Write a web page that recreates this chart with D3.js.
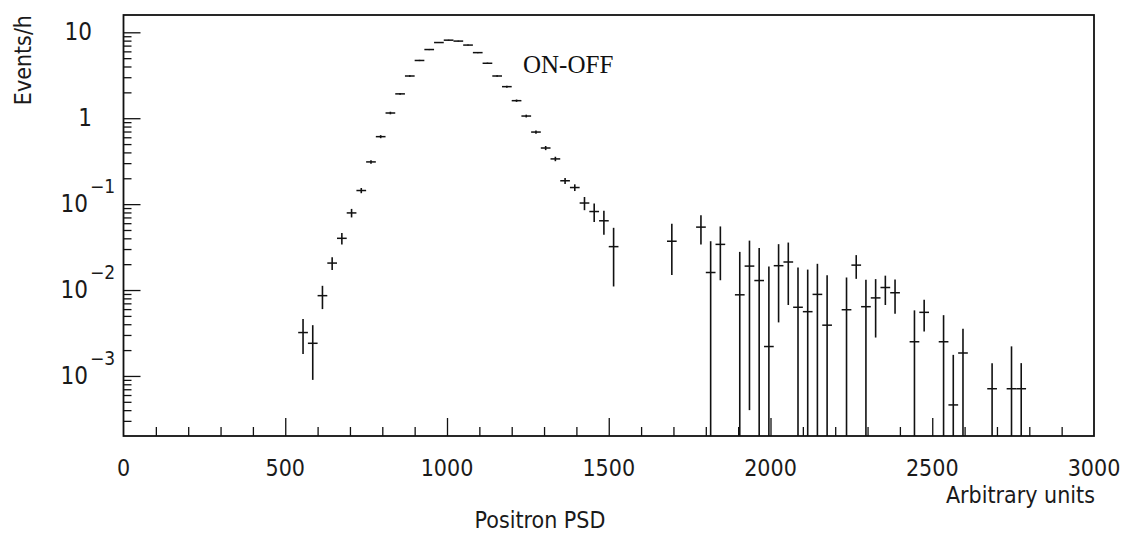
<!DOCTYPE html>
<html>
<head>
<meta charset="utf-8">
<script src="https://cdn.jsdelivr.net/npm/d3@7"></script>
<style>
  body { margin: 0; background: #fff; }
  svg { display: block; }
  .lab { font-family: "DejaVu Sans Condensed", "DejaVu Sans", sans-serif; font-weight: 200; fill: #1a1a1a; }
</style>
</head>
<body>
<svg id="chart" width="1134" height="535"></svg>
<script>
// bin centres (30-unit bins), counts per hour and their errors
const binCenters = [555, 585, 615, 645, 675, 705, 735, 765, 795, 825, 855, 885, 915, 945, 975, 1005,
  1035, 1065, 1095, 1125, 1155, 1185, 1215, 1245, 1275, 1305, 1335, 1365, 1395, 1425, 1455, 1485, 1515,
  1695, 1785, 1815, 1845, 1905, 1935, 1965, 1995, 2025, 2055, 2085, 2115, 2145, 2175, 2235, 2265, 2295,
  2325, 2355, 2385, 2445, 2475, 2535, 2565, 2595, 2685, 2745, 2775]
const rates = [0.0032, 0.0024, 0.0086, 0.0206, 0.040, 0.079, 0.144, 0.31, 0.61, 1.15, 1.92, 3.1, 4.7, 6.3, 7.6, 8.1,
  7.9, 7.1, 5.8, 4.36, 3.1, 2.33, 1.6, 1.06, 0.69, 0.45, 0.336, 0.187, 0.156, 0.103, 0.082, 0.064, 0.032,
  0.037, 0.054, 0.016, 0.034, 0.0088, 0.019, 0.0129, 0.0022, 0.0192, 0.0212, 0.0063, 0.0056, 0.0089, 0.0039, 0.0059, 0.0195, 0.0064,
  0.0081, 0.0107, 0.0093, 0.0025, 0.0055, 0.0025, 0.00046, 0.00185, 0.00071, 0.00071, 0.00071]
const errors = [0.0014, 0.0015, 0.0026, 0.0035, 0.006, 0.009, 0.01, 0.015, 0.025, 0.04, 0.05, 0.07, 0.08, 0.1, 0.1, 0.1,
  0.1, 0.1, 0.09, 0.08, 0.07, 0.06, 0.05, 0.04, 0.03, 0.025, 0.02, 0.015, 0.014, 0.018, 0.02, 0.02, 0.021,
  0.022, 0.02, 0.021, 0.021, 0.019, 0.0186, 0.018, 0.0166, 0.015, 0.0145, 0.012, 0.0117, 0.0113, 0.011, 0.0081, 0.006, 0.0068,
  0.0053, 0.004, 0.004, 0.0033, 0.0022, 0.0026, 0.0013, 0.0017, 0.0007, 0.0015, 0.0007]
const binWidth = 30

const xMajor = [0, 500, 1000, 1500, 2000, 2500, 3000]
const yDecades = [1e-3, 1e-2, 1e-1, 1, 10]
const yLabels = [["10", "\u22123"], ["10", "\u22122"], ["10", "\u22121"], ["1", ""], ["10", ""]]

const data = binCenters.map((c, i) => ({x: c, y: rates[i], e: errors[i]}))

const frame = {left: 123.5, right: 1094, top: 15, bottom: 436}
const svg = d3.select('#chart')

const xScale = d3.scaleLinear().domain([0, 3000]).range([frame.left, frame.right])
const yScale = d3.scaleLog().domain([2.0e-4, 15.9]).range([frame.bottom, frame.top])
const yMin = yScale.domain()[0]
const yMax = yScale.domain()[1]

// frame
svg.append('rect')
  .attr('x', frame.left).attr('y', frame.top)
  .attr('width', frame.right - frame.left).attr('height', frame.bottom - frame.top)
  .attr('fill', 'none').attr('stroke', '#111').attr('stroke-width', 1.8)

// x ticks (pointing up into the frame)
const xMinor = d3.range(100, 3000, 100).filter(v => v % 500 !== 0)
const xAxisMinor = svg.append('g').attr('transform', `translate(0,${frame.bottom})`)
  .call(d3.axisTop(xScale).tickValues(xMinor).tickSize(9).tickFormat(''))
const xAxisMajor = svg.append('g').attr('transform', `translate(0,${frame.bottom})`)
  .call(d3.axisTop(xScale).tickValues(xMajor.slice(1, -1)).tickSize(18).tickFormat(''))
;[xAxisMinor, xAxisMajor].forEach(a => {
  a.select('.domain').remove()
  a.selectAll('line').attr('stroke', '#111').attr('stroke-width', 1.3)
})

svg.selectAll('.xlab').data(xMajor).join('text')
  .attr('class', 'lab')
  .attr('x', d => xScale(d))
  .attr('y', 476)
  .attr('text-anchor', 'middle')
  .attr('font-size', 23)
  .text(d => d)

// y ticks (pointing right into the frame)
const yMinor = []
yDecades.forEach(d => { for (let k = 2; k <= 9; k++) { const v = d * k / 10; if (v > yMin) yMinor.push(v) } })
yMinor.push(...d3.range(2, 10).map(k => k * 10).filter(v => v < yMax))
const yAxisMinor = svg.append('g').attr('transform', `translate(${frame.left},0)`)
  .call(d3.axisRight(yScale).tickValues(yMinor).tickSize(8).tickFormat(''))
const yAxisMajor = svg.append('g').attr('transform', `translate(${frame.left},0)`)
  .call(d3.axisRight(yScale).tickValues(yDecades).tickSize(17).tickFormat(''))
;[yAxisMinor, yAxisMajor].forEach(a => {
  a.select('.domain').remove()
  a.selectAll('line').attr('stroke', '#111').attr('stroke-width', 1.3)
})

const ylab = svg.selectAll('.ylab').data(yDecades).join('g')
ylab.append('text')
  .attr('class', 'lab')
  .attr('x', (d, i) => yLabels[i][1] ? 88 : 92)
  .attr('y', d => yScale(d) + 8)
  .attr('text-anchor', 'end')
  .attr('font-size', 24)
  .text((d, i) => yLabels[i][0])
ylab.append('text')
  .attr('class', 'lab')
  .attr('x', 90)
  .attr('y', d => yScale(d) - 11)
  .attr('font-size', 19)
  .text((d, i) => yLabels[i][1])

// error bars
const pts = svg.append('g').attr('stroke', '#111')
pts.selectAll('.hbar').data(data).join('line')
  .attr('x1', d => xScale(d.x - binWidth / 2))
  .attr('x2', d => xScale(d.x + binWidth / 2))
  .attr('y1', d => yScale(d.y)).attr('y2', d => yScale(d.y))
  .attr('stroke-width', 1.5)
pts.selectAll('.vbar').data(data).join('line')
  .attr('x1', d => xScale(d.x)).attr('x2', d => xScale(d.x))
  .attr('y1', d => yScale(Math.min(d.y + d.e, yMax)))
  .attr('y2', d => d.y - d.e > yMin ? yScale(d.y - d.e) : frame.bottom)
  .attr('stroke-width', 1.6)

// annotation and axis titles
svg.append('text')
  .attr('x', 523).attr('y', 73)
  .attr('font-family', '"Liberation Serif", "Times New Roman", serif')
  .attr('font-size', 25)
  .attr('fill', '#111')
  .text('ON-OFF')

svg.append('text')
  .attr('class', 'lab')
  .attr('x', 1095).attr('y', 503)
  .attr('text-anchor', 'end')
  .attr('font-size', 23)
  .text('Arbitrary units')

svg.append('text')
  .attr('class', 'lab')
  .attr('x', 540).attr('y', 528)
  .attr('text-anchor', 'middle')
  .attr('font-size', 23)
  .text('Positron PSD')

svg.append('text')
  .attr('class', 'lab')
  .attr('transform', 'translate(31,15) rotate(-90)')
  .attr('text-anchor', 'end')
  .attr('font-size', 23)
  .text('Events/h')
</script>
</body>
</html>
